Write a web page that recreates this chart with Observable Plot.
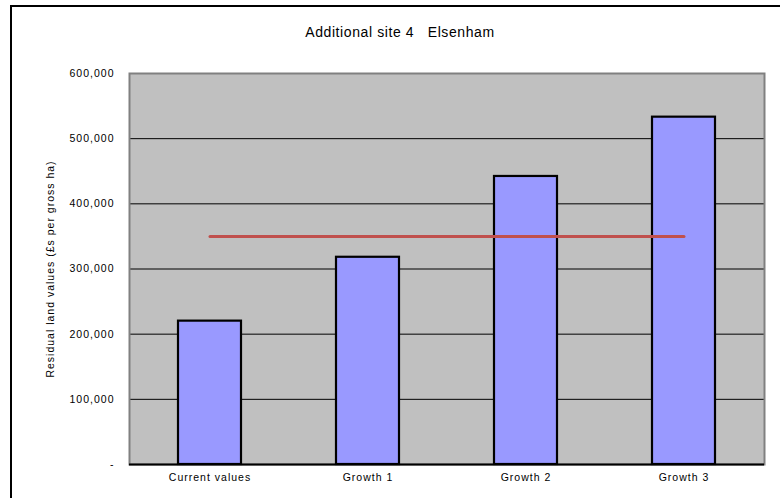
<!DOCTYPE html>
<html>
<head>
<meta charset="utf-8">
<script src="https://cdn.jsdelivr.net/npm/d3@7"></script>
<script src="https://cdn.jsdelivr.net/npm/@observablehq/plot@0.6"></script>
<style>
  html, body { margin: 0; padding: 0; background: #fff; }
  #wrap { position: relative; width: 780px; height: 498px; overflow: hidden; font-family: "Liberation Sans", Arial, sans-serif; }
  #frame { position: absolute; left: 10px; top: 5px; width: 800px; height: 520px; border-left: 2px solid #000; border-top: 2px solid #000; box-sizing: border-box; }
  #title { position: absolute; left: 0; width: 800px; top: 24px; text-align: center; font-size: 14px; letter-spacing: 0.6px; color: #000; }
  #chart { position: absolute; left: 0; top: 0; }
  #chart text { letter-spacing: 1px; }
</style>
</head>
<body>
<div id="wrap">
  <div id="chart"></div>
  <div id="frame"></div>
  <div id="title">Additional site 4&nbsp;&nbsp; Elsenham</div>
</div>
<script>
const categories = ["Current values", "Growth 1", "Growth 2", "Growth 3"];
const values = [220000, 318000, 442000, 533000];
const thresholdValue = 350000;
const yTicks = [0, 100000, 200000, 300000, 400000, 500000, 600000];
const yLabel = "Residual land values (£s per gross ha)";

const bars = categories.map((c, i) => ({category: c, value: values[i]}));
const threshold = categories.map(c => ({category: c, value: thresholdValue}));

const chart = Plot.plot({
  width: 780,
  height: 498,
  marginLeft: 129,
  marginRight: 16,
  marginTop: 73,
  marginBottom: 34,
  style: {background: "transparent", fontFamily: "'Liberation Sans', Arial, sans-serif", fontSize: "10.5px", color: "#000"},
  x: {domain: categories, paddingInner: 0.6, paddingOuter: 0.3},
  y: {domain: [0, 600000]},
  marks: [
    Plot.frame({fill: "#c0c0c0"}),
    Plot.gridY(yTicks.filter(d => d > 0), {stroke: "#000", strokeOpacity: 1, strokeWidth: 1}),
    Plot.frame({stroke: "#808080", strokeWidth: 2}),
    Plot.barY(bars, {x: "category", y: "value", fill: "#9999ff", stroke: "#000", strokeWidth: 2.2}),
    Plot.ruleY([0], {stroke: "#000", strokeWidth: 2}),
    Plot.lineY(threshold, {x: "category", y: "value", stroke: "#c0504d", strokeWidth: 3}),
    Plot.axisY(yTicks, {
      tickSize: 0, tickPadding: 15,
      tickFormat: d => d === 0 ? "-" : d3.format(",")(d),
      label: yLabel, labelAnchor: "center", labelOffset: 83, labelArrow: "none",
      fontSize: 10.5
    }),
    Plot.axisX({tickSize: 0, tickPadding: 9, label: null, fontSize: 10.5})
  ]
});
document.getElementById("chart").appendChild(chart);
</script>
</body>
</html>
